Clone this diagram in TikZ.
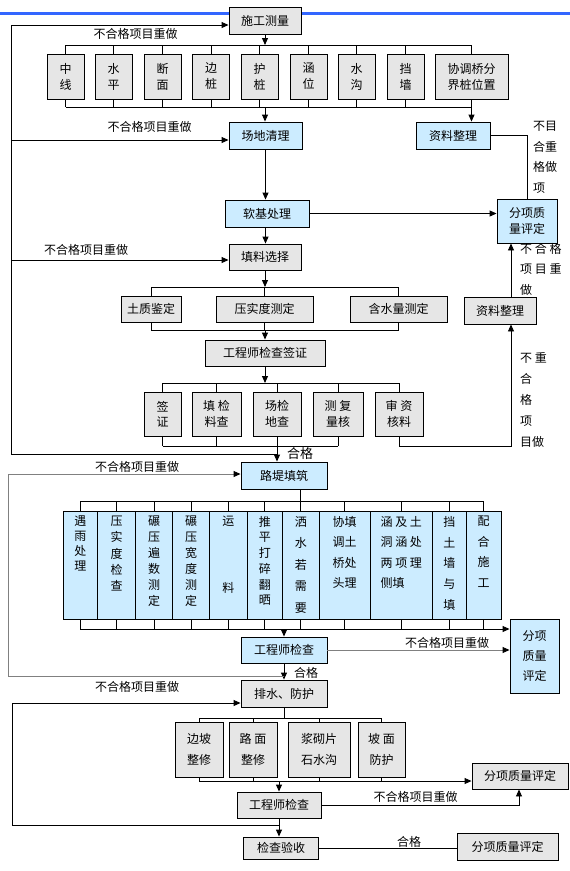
\documentclass[tikz,border=0pt]{standalone}
\usepackage{fontspec}
\setmainfont{Noto Sans CJK SC}
\usepackage{xcolor}
\usepackage{tikz}
\usetikzlibrary{calc,arrows.meta,positioning}

\definecolor{boxgray}{HTML}{E6E6E6}
\definecolor{boxblue}{HTML}{CCECFF}
\definecolor{topblue}{HTML}{3366FF}
\definecolor{linegray}{HTML}{808080}

\begin{document}
\begin{tikzpicture}[
    x=1pt, y=-1pt,
    gbox/.style={
      rectangle,
      draw=black,
      line width=0.9pt,
      fill=boxgray,
      inner sep=0pt,
      align=center,
      font=\fontsize{12}{16}\selectfont
    },
    bbox/.style={gbox, fill=boxblue},
    coltxt/.style={inner sep=0pt, anchor=north},
    lbl/.style={inner sep=0pt, font=\fontsize{12}{14}\selectfont},
    vlbl/.style={inner sep=0pt, anchor=north west, align=left},
    ln/.style={line width=0.9pt},
    arr/.style={-{Triangle[length=7pt,width=6pt]}, line width=0.9pt},
    arrgray/.style={-{Triangle[length=7pt,width=6pt,color=black]}, line width=0.9pt, draw=linegray}
  ]

    \useasboundingbox (0,0) rectangle (570,871);

    % blue rule at the top
    \draw[line width=3pt, topblue] (0,13) -- (570,13);

    % Survey
    \node[gbox, minimum width=72, minimum height=27] (sgcl) at (265,20.5) {施工测量};

    \foreach \n/\x/\t in {zx/65.5/{中\\线}, sp/113.5/{水\\平}, dm/162.5/{断\\面},
                          bz/211/{边\\桩}, hz/259.5/{护\\桩}, hw/308.5/{涵\\位},
                          sg/356.5/{水\\沟}, dq/405.5/{挡\\墙}} {
      \node[gbox, minimum width=37, minimum height=45] (\n) at (\x,76.5) {\t};
    }
    \node[gbox, minimum width=73, minimum height=45] (xq) at (471.5,76.5) {协调桥分\\界桩位置};

    \coordinate (bus1) at (0,45);
    \coordinate (bus2) at (0,107);
    \draw[arr] (sgcl.south) -- (sgcl.south |- bus1);
    \draw[ln] (zx.north |- bus1) -- (xq.north |- bus1);
    \draw[ln] (zx.south |- bus2) -- (xq.south |- bus2);
    \foreach \n in {zx,sp,dm,bz,hz,hw,sg,dq,xq} {
      \draw[ln] (\n.north) -- (\n.north |- bus1);
      \draw[ln] (\n.south) -- (\n.south |- bus2);
    }

    % Site clearing and soft ground
    \node[bbox, minimum width=73, minimum height=27] (cdql) at (265.5,135.5) {场地清理};
    \node[bbox, minimum width=74, minimum height=27] (zl1) at (453,135.5) {资料整理};
    \node[bbox, minimum width=84, minimum height=27] (rjcl) at (267,213.5) {软基处理};
    \node[bbox, minimum width=60, minimum height=44] (fx1) at (527,221) {分项质\\量评定};

    \draw[arr] (sgcl.south |- bus2) -- (sgcl.south |- cdql.north);
    \draw[arr] (xq.south |- bus2) -- (xq.south |- zl1.north);
    \draw[ln] (zl1.east) -| (fx1.north);
    \draw[arr] (cdql.south) -- (cdql.south |- rjcl.north);
    \draw[arr] (rjcl.east) -- (rjcl.east -| fx1.west);

    \node[vlbl, font=\fontsize{12}{20.5}\selectfont] (rl1) at (533,121) {不目\\合重\\格做\\项};

    % Fill material
    \node[gbox, minimum width=72, minimum height=26] (tlxz) at (265,257) {填料选择};
    \draw[arr] (cdql.south |- rjcl.south) -- (cdql.south |- tlxz.north);

    \node[gbox, minimum width=60, minimum height=26] (tzjd) at (151,309) {土质鉴定};
    \node[gbox, minimum width=97, minimum height=26] (ysd) at (264.5,309) {压实度测定};
    \node[gbox, minimum width=97, minimum height=26] (hsl) at (398.5,309) {含水量测定};
    \node[gbox, minimum width=72, minimum height=27] (zl2) at (500,310.5) {资料整理};

    \coordinate (bus3) at (0,287);
    \coordinate (bus3b) at (0,330);
    \draw[arr] (tlxz.south) -- (tlxz.south |- bus3);
    \draw[ln] (tzjd.north |- bus3) -- (hsl.north |- bus3);
    \draw[ln] (tzjd.south |- bus3b) -- (hsl.south |- bus3b);
    \foreach \n in {tzjd,ysd,hsl} {
      \draw[ln] (\n.north) -- (\n.north |- bus3);
      \draw[ln] (\n.south) -- (\n.south |- bus3b);
    }

    \node[gbox, minimum width=120, minimum height=26] (gcqz) at (265,353) {工程师检查签证};
    \draw[arr] (tlxz.south |- bus3b) -- (tlxz.south |- gcqz.north);

    \foreach \n/\x/\w/\t in {qz/162.5/37/{签\\证}, tj/216.5/49/{填 检\\料查},
                             cj/277/48/{场检\\地查}, cf/338/50/{测 复\\量核},
                             sz/399/48/{审 资\\核料}} {
      \node[gbox, minimum width=\w, minimum height=44, font=\fontsize{12}{15.5}\selectfont] (\n) at (\x,414) {\t};
    }

    \coordinate (bus4) at (0,383);
    \coordinate (bus4b) at (0,446);
    \draw[arr] (gcqz.south) -- (gcqz.south |- bus4);
    \draw[ln] (qz.north |- bus4) -- (sz.north |- bus4);
    \draw[ln] (qz.south |- bus4b) -- (cf.south |- bus4b);
    \foreach \n in {qz,tj,cj,cf,sz} {
      \draw[ln] (\n.north) -- (\n.north |- bus4);
    }
    \foreach \n in {qz,tj,cj,cf} {
      \draw[ln] (\n.south) -- (\n.south |- bus4b);
    }

    % right return to data files
    \coordinate (rx) at (511,0);
    \draw[arr] (sz.south) -- (sz.south |- bus4b) -- (bus4b -| rx) -- (zl2.south -| rx);
    \draw[arr] (zl2.north -| rx) -- (fx1.south -| rx);
    \node[vlbl, font=\fontsize{12}{20.5}\selectfont] (rl2) at (520,243) {不 合 格\\项 目 重\\做};
    \node[vlbl, font=\fontsize{12}{21}\selectfont] (rl3) at (520,352) {不 重\\合\\格\\项\\目做};

    % Embankment
    \node[bbox, minimum width=86, minimum height=27] (ldtz) at (284,475.5) {路堤填筑};
    \draw[arr] (cj.south |- bus4b) -- (cj.south |- ldtz.north);
    \node[lbl, font=\fontsize{13}{15}\selectfont] (hg1) at (300,454) {合格};

    % first loop back
    \coordinate (lp1) at (11,25);
    \coordinate (lp1b) at (11,454);
    \coordinate (lp1c) at (11,140);
    \coordinate (lp1d) at (11,260);
    \draw[arr] (cj.south |- lp1b) -- (lp1b) -- (lp1) -- (lp1 -| sgcl.west);
    \draw[arr] (lp1c) -- (lp1c -| cdql.west);
    \draw[arr] (lp1d) -- (lp1d -| tlxz.west);
    \node[lbl] (t1) at (135.5,34) {不合格项目重做};
    \node[lbl] (t2) at (149.5,127) {不合格项目重做};
    \node[lbl] (t3) at (86,250) {不合格项目重做};

    % Embankment work items
    \foreach \n/\x/\w/\a/\s/\t in {
        yy/80.25/34.5/center/15/{遇\\雨\\处\\理},
        yc/116.5/38/center/16.25/{压\\实\\度\\检\\查},
        bs/154/37/center/16/{碾\\压\\遍\\数\\测\\定},
        bk/191/37/center/16/{碾\\压\\宽\\度\\测\\定},
        yl/228.25/37.5/center/16.7/{运\\[50pt]料},
        tp/264.75/35.5/center/15.7/{推\\平\\打\\碎\\翻\\晒},
        ss/300.75/36.5/center/21.5/{洒\\水\\若\\需\\要},
        xt/344.5/51/center/20.5/{协填\\调土\\桥处\\头理},
        hj/401.25/62.5/left/20.5/{涵 及 土\\洞 涵 处\\两 项 理\\侧填},
        dt/449.25/33.5/center/20.8/{挡\\土\\墙\\与\\填},
        ph/483.5/35/center/20.5/{配\\合\\施\\工}} {
      \node[bbox, minimum width=\w, minimum height=108] (\n) at (\x,565) {};
      \node[coltxt, align=\a, font=\fontsize{12}{\s}\selectfont] (\n-t) at (\x,516) {\t};
    }

    \coordinate (bus5) at (0,501);
    \coordinate (bus5b) at (0,629);
    \draw[ln] (ss.north |- ldtz.south) -- (ss.north);
    \draw[ln] (yy.north |- bus5) -- (ph.north |- bus5);
    \foreach \n in {yy,yc,bs,bk,yl,tp,ss,xt,hj,dt,ph} {
      \draw[ln] (\n.north) -- (\n.north |- bus5);
      \draw[ln] (\n.south) -- (\n.south |- bus5b);
    }

    \node[bbox, minimum width=86, minimum height=26] (gc1) at (284,650) {工程师检查};
    \node[bbox, minimum width=49, minimum height=74, font=\fontsize{12}{20}\selectfont] (fx2) at (534.5,656) {分项\\质量\\评定};
    \draw[arr] (yy.south |- bus5b) -- (bus5b -| fx2.west);
    \draw[arr] (gc1.north |- bus5b) -- (gc1.north);
    \draw[arrgray] (gc1.east) -- (gc1.east -| fx2.west);
    \node[lbl] (t5) at (447,643) {不合格项目重做};

    % Drainage and protection
    \node[gbox, minimum width=86, minimum height=27] (pfsh) at (284,693.5) {排水、防护};
    \draw[arr] (gc1.south) -- (pfsh.north);
    \node[lbl] (hg2) at (306,673) {合格};

    % second loop back
    \coordinate (lp2a) at (8,474);
    \coordinate (lp2b) at (8,676);
    \draw[arrgray] (gc1.south |- lp2b) -- (lp2b) -- (lp2a) -- (lp2a -| ldtz.west);
    \node[lbl] (t4) at (137,467) {不合格项目重做};

    \foreach \n/\x/\w/\t in {bp/199/48/{边坡\\整修}, lm/253/48/{路 面\\整修},
                             jq/319/62/{浆砌片\\石水沟}, pm/381.5/47/{坡 面\\防护}} {
      \node[gbox, minimum width=\w, minimum height=55, font=\fontsize{12}{21}\selectfont] (\n) at (\x,749.5) {\t};
    }

    \coordinate (bus6) at (0,718);
    \coordinate (bus6b) at (0,781);
    \draw[ln] (pfsh.south) -- (pfsh.south |- bus6);
    \draw[ln] (bp.north |- bus6) -- (pm.north |- bus6);
    \foreach \n in {bp,lm,jq,pm} {
      \draw[ln] (\n.north) -- (\n.north |- bus6);
      \draw[ln] (\n.south) -- (\n.south |- bus6b);
    }

    \node[gbox, minimum width=96, minimum height=26] (fx3) at (520,776) {分项质量评定};
    \node[gbox, minimum width=84, minimum height=26] (gc2) at (279,805) {工程师检查};
    \draw[arr] (bp.south |- bus6b) -- (bus6b -| fx3.west);
    \draw[arr] (gc2.north |- bus6b) -- (gc2.north);

    \coordinate (rx3) at (519,0);
    \draw[arr] (gc2.east) -- (gc2.east -| rx3) -- (fx3.south -| rx3);
    \node[lbl] (t7) at (415.5,797) {不合格项目重做};

    % Acceptance
    \node[gbox, minimum width=75, minimum height=22] (jcys) at (281,848) {检查验收};
    \node[gbox, minimum width=101, minimum height=27] (fx4) at (507.5,846.5) {分项质量评定};
    \draw[arr] (gc2.south) -- (gc2.south |- jcys.north);
    \draw[ln] (jcys.east) -- (jcys.east -| fx4.west);
    \node[lbl] (hg3) at (409,842) {合格};

    % third loop back
    \coordinate (lp3a) at (12,703);
    \coordinate (lp3b) at (12,825);
    \draw[arr] (gc2.south |- lp3b) -- (lp3b) -- (lp3a) -- (lp3a -| pfsh.west);
    \node[lbl] (t6) at (137,687) {不合格项目重做};

  \end{tikzpicture}
\end{document}
